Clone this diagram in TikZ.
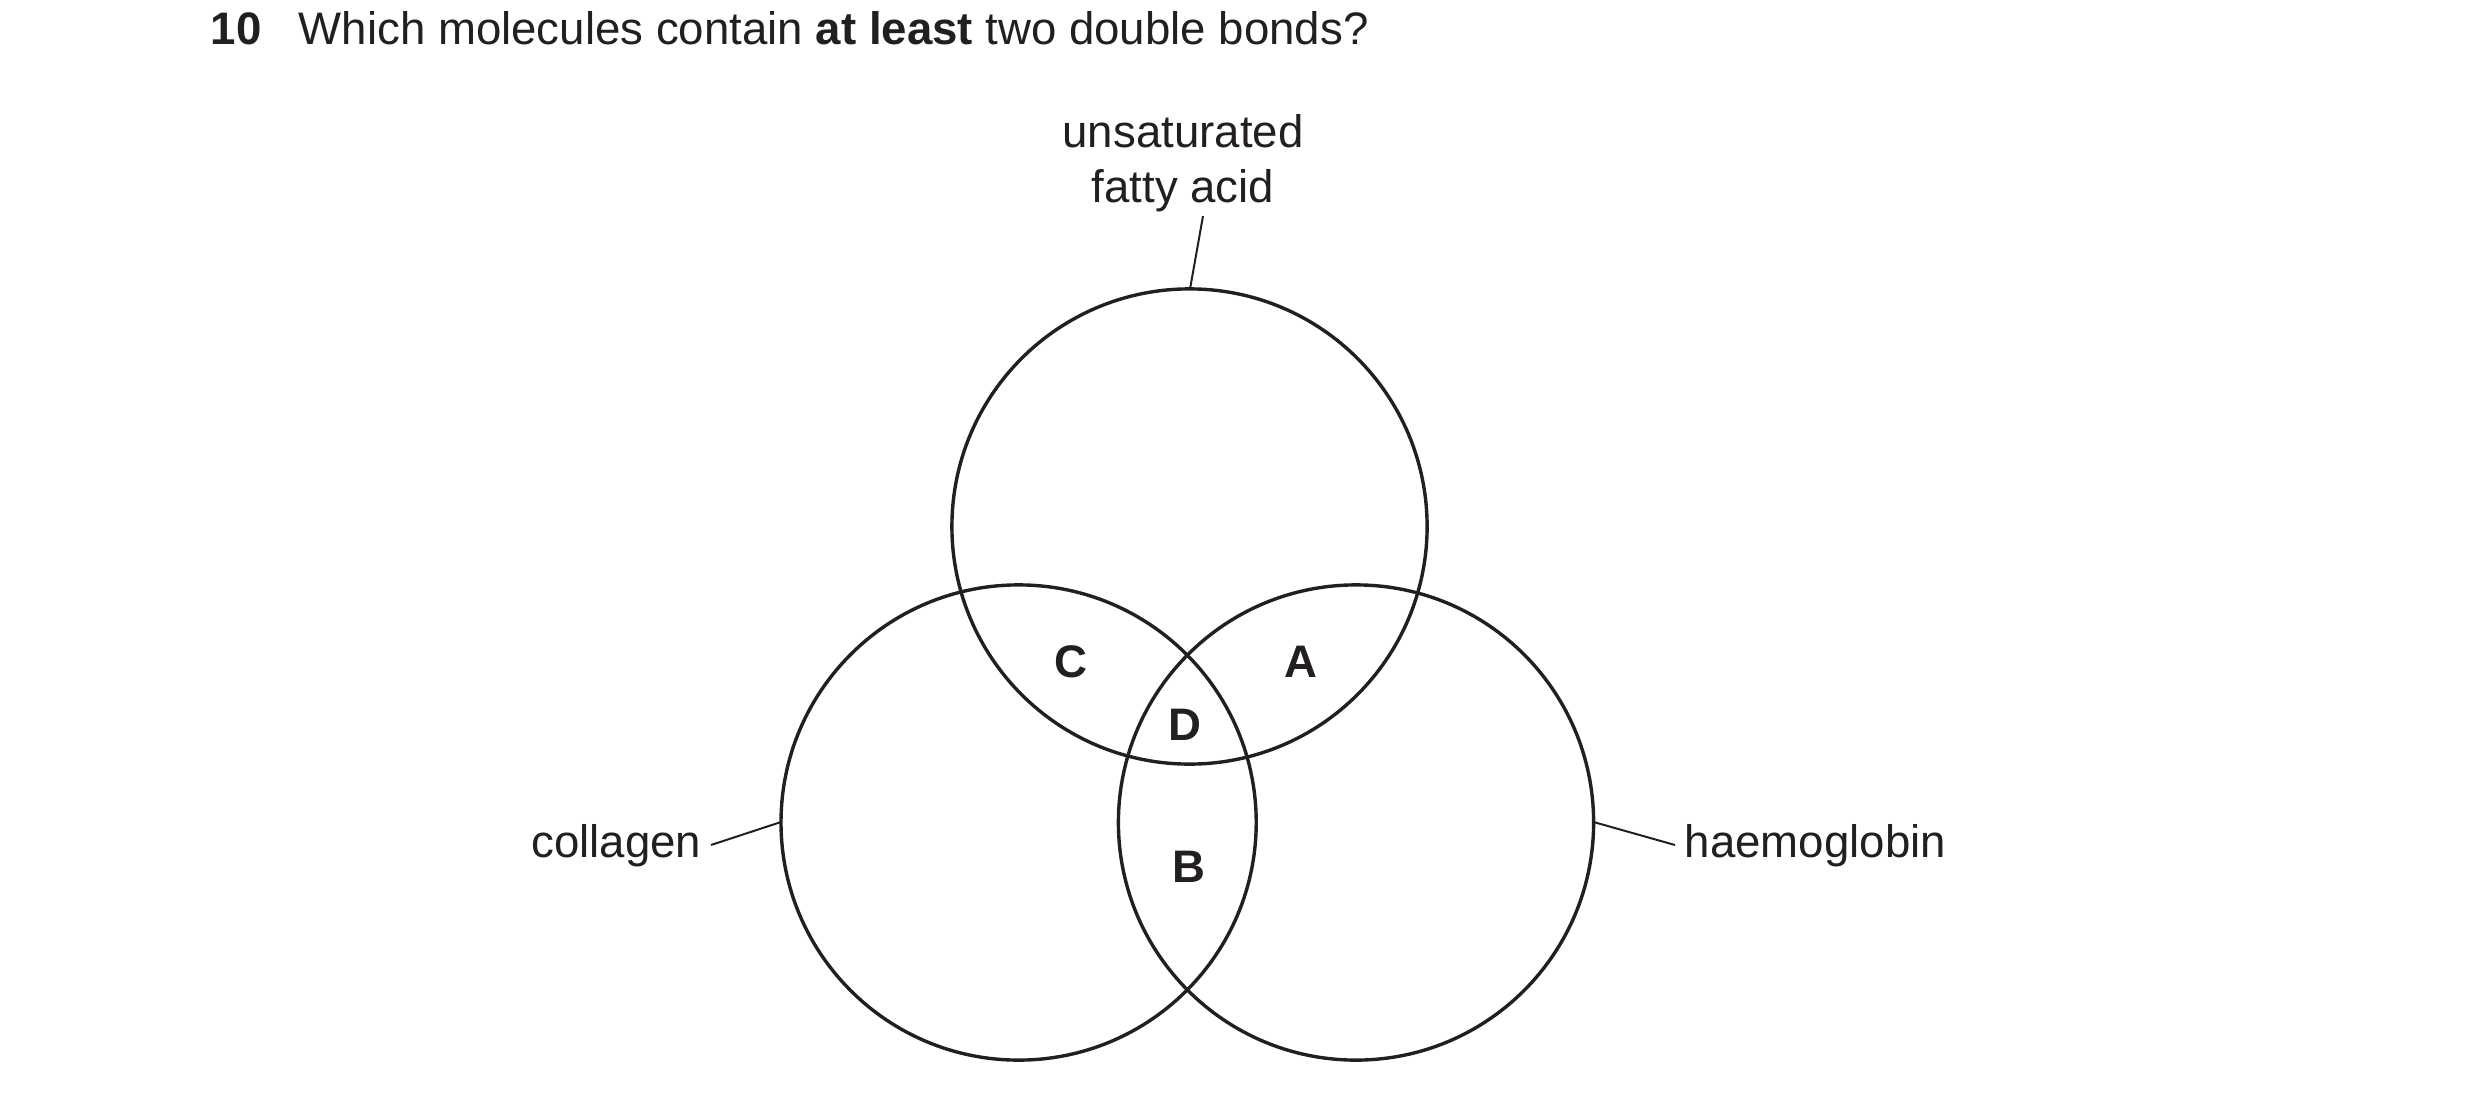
\documentclass[tikz,border=0pt]{standalone}
\usepackage{fontspec}
\setmainfont{Liberation Sans}
\definecolor{ink}{HTML}{231F20}
\begin{document}
\begin{tikzpicture}[x=0.25pt,y=-0.25pt,
  ring/.style={draw=ink,line width=0.85pt},
  lead/.style={draw=ink,line width=0.5pt},
  lbl/.style={text=ink,font=\fontsize{11.4}{13.75}\selectfont,inner sep=0pt},
  region/.style={text=ink,font=\fontsize{11.4}{13.75}\selectfont\bfseries,inner sep=0pt}]
\useasboundingbox (0,0) rectangle (2480,1102);
% title
\node[lbl,anchor=base west] (num) at (210,45) {\textbf{10}};
\node[lbl,anchor=base west] (q) at (298,45) {Which molecules contain \textbf{at least} two double bonds?};
% circles
\draw[ring] (1189.5,526.5) circle[radius=59.4pt];
\draw[ring] (1018.6,822.5) circle[radius=59.4pt];
\draw[ring] (1356,822.5) circle[radius=59.4pt];
\coordinate (ptop) at (1190,289);
\coordinate (pleft) at (781,822);
\coordinate (pright) at (1593.5,822);
% labels
\node[lbl,align=center,anchor=base] (ufa) at (1183,203) {unsaturated\\fatty acid};
\node[lbl,anchor=base east] (col) at (702,857) {collagen};
\node[lbl,anchor=base west] (hae) at (1684,857) {haemoglobin};
\coordinate (ufaend) at (1203,216);
\coordinate (colend) at (711,845);
\coordinate (haeend) at (1675,845);
\draw[lead] (ufaend) -- (ptop);
\draw[lead] (colend) -- (pleft);
\draw[lead] (haeend) -- (pright);
% region letters
\node[region] (A) at (1301,662) {A};
\node[region] (C) at (1071,662) {C};
\node[region] (D) at (1185,725) {D};
\node[region] (B) at (1189,867) {B};
\end{tikzpicture}
\end{document}
